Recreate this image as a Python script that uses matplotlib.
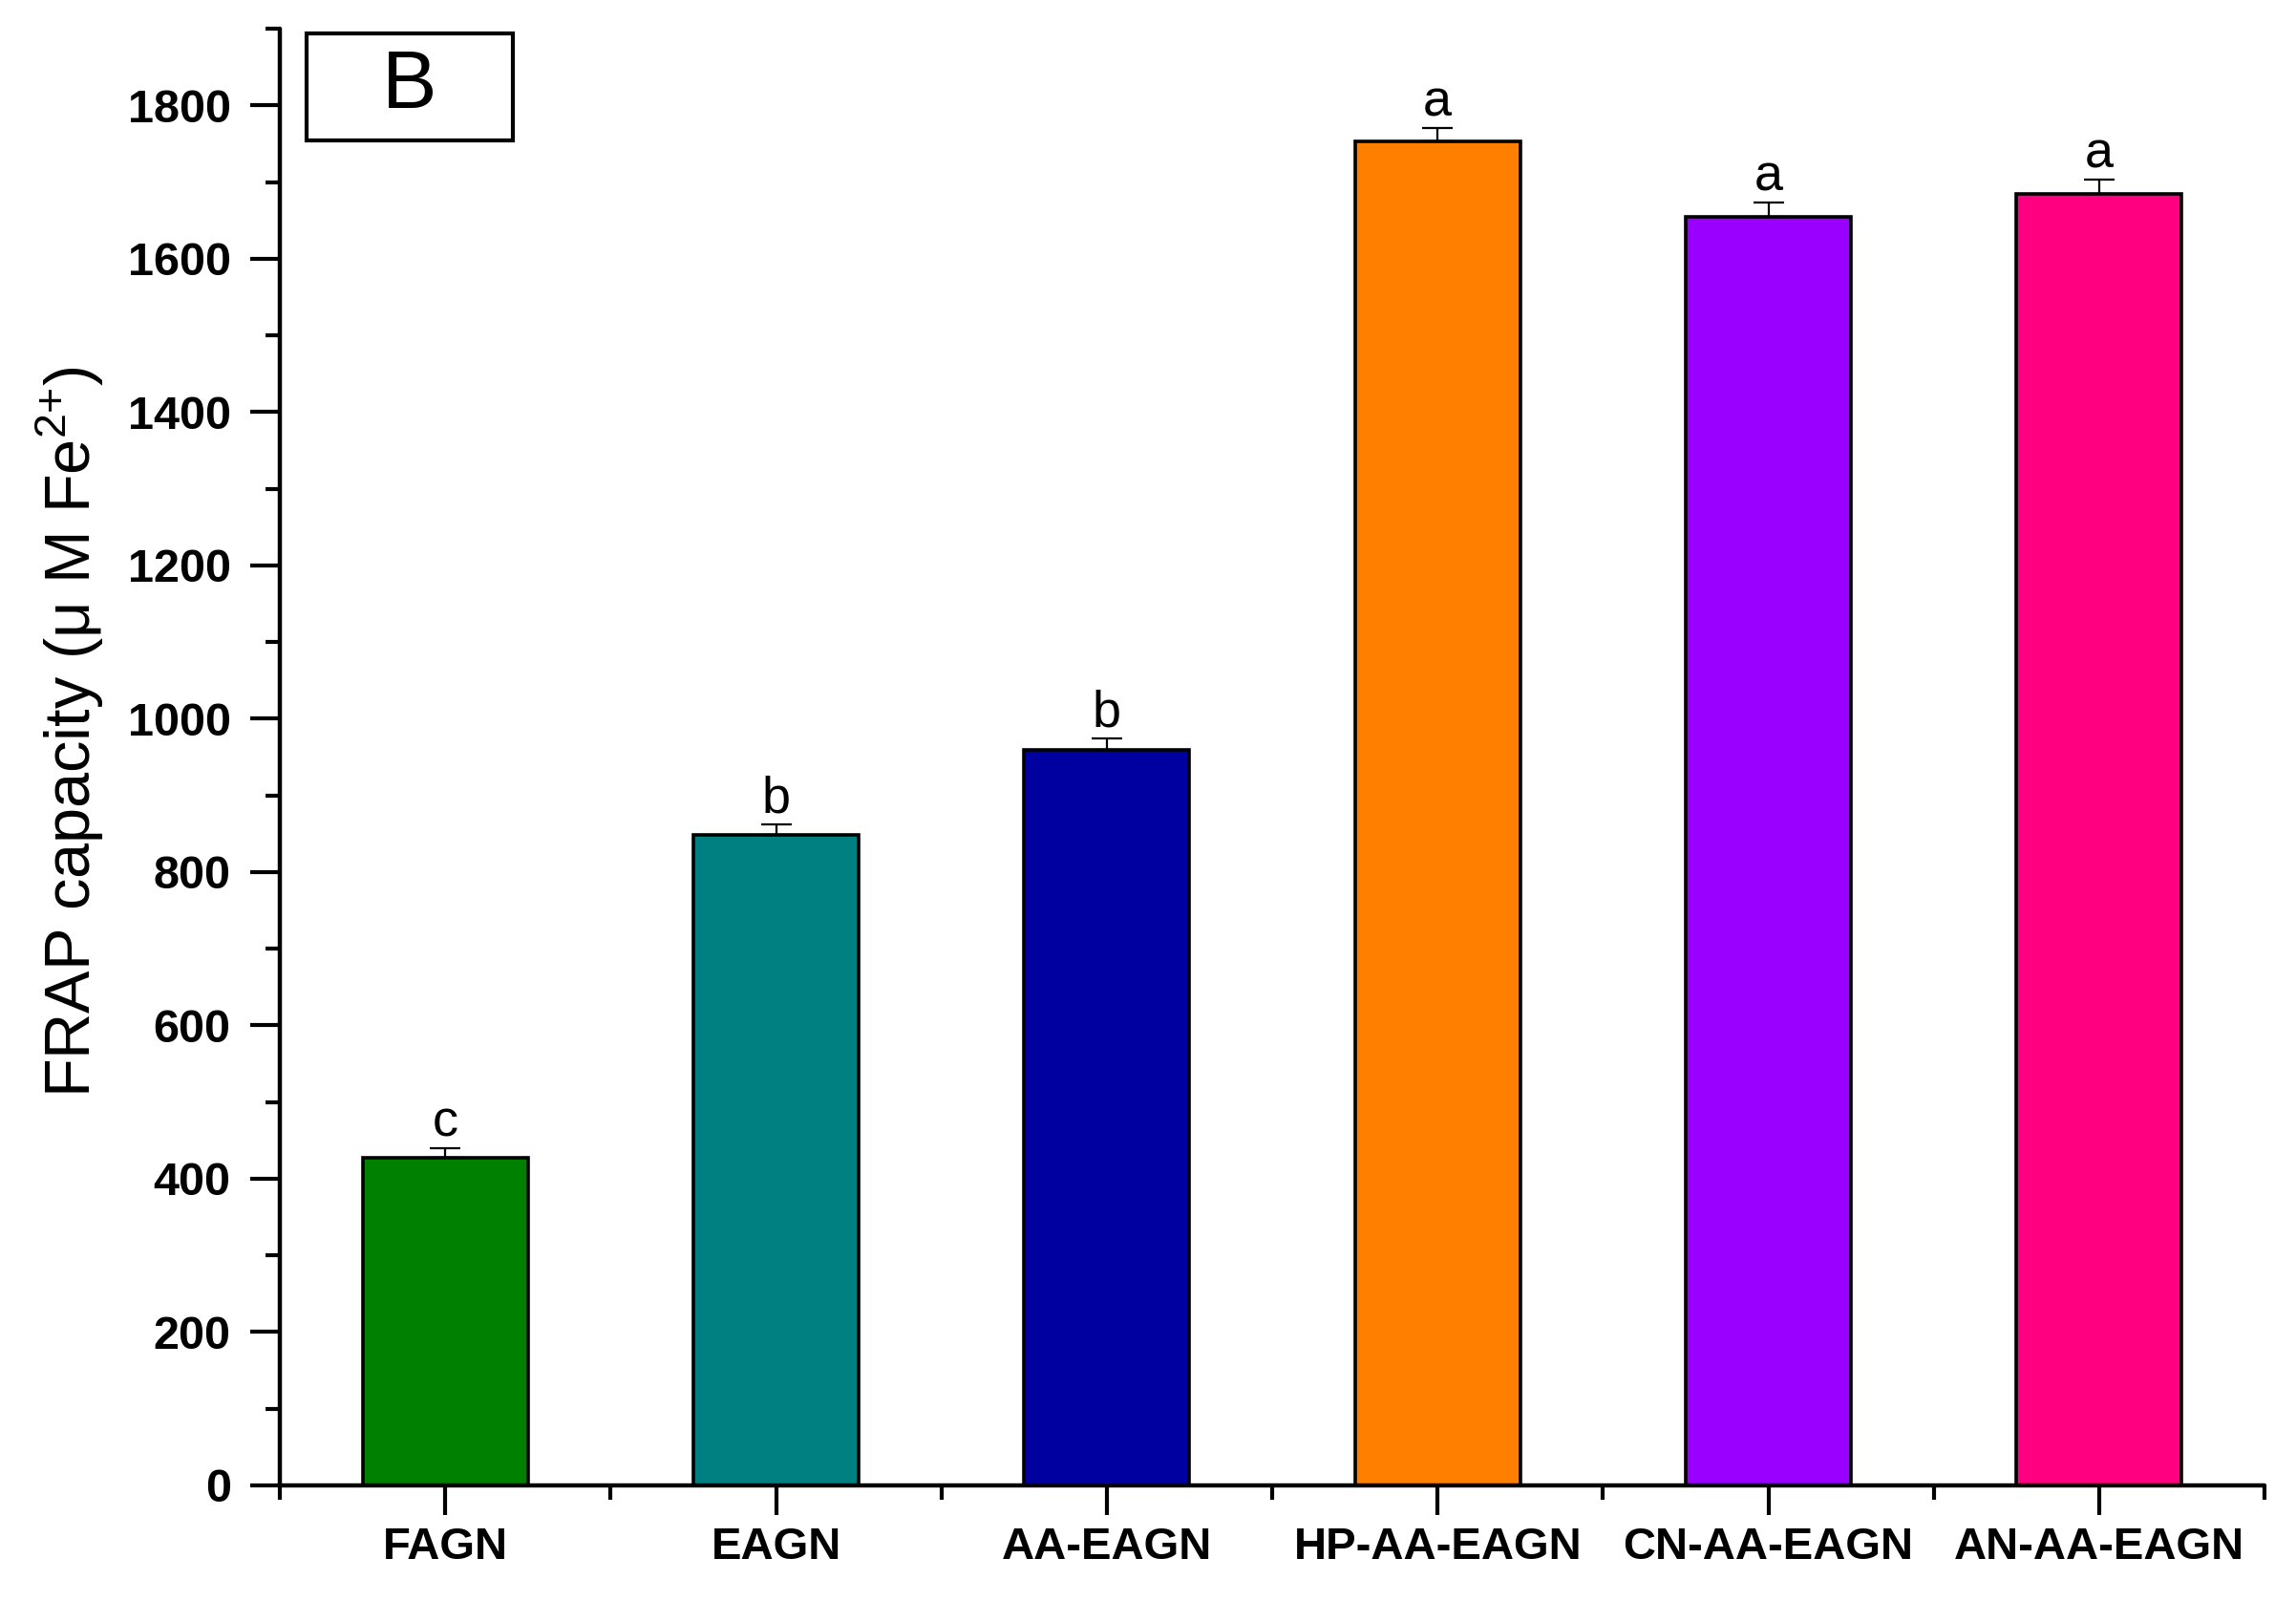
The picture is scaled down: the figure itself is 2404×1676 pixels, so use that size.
import matplotlib
matplotlib.use("Agg")
import matplotlib.pyplot as plt
from matplotlib.patches import Rectangle
from matplotlib.ticker import MultipleLocator, FixedLocator
import numpy as np

categories = ["FAGN", "EAGN", "AA-EAGN", "HP-AA-EAGN", "CN-AA-EAGN", "AN-AA-EAGN"]
values = [427, 849, 960, 1753, 1655, 1685]
errors = [13, 13, 15, 18, 18, 18]
letters = ["c", "b", "b", "a", "a", "a"]
colors = ["#008000", "#008080", "#0000A0", "#FF8000", "#9900FF", "#FF0080"]

plt.rcParams['font.family'] = ['Liberation Sans', 'DejaVu Sans']
plt.rcParams['mathtext.fontset'] = 'custom'
plt.rcParams['mathtext.rm'] = 'Liberation Sans'
plt.rcParams['mathtext.default'] = 'regular'

fig = plt.figure(figsize=(24.04, 16.76), dpi=100)
ax = fig.add_axes([0.1219, 0.0722, 0.9863 - 0.1219, 0.982 - 0.0722])

x = np.arange(1, len(categories) + 1)
ax.bar(x, values, width=0.5, color=colors, edgecolor='black', linewidth=2.6, zorder=2)
ax.errorbar(x, values, yerr=[np.zeros(len(errors)), errors], fmt='none',
            ecolor='black', elinewidth=1.6, capsize=11.5, capthick=1.6, zorder=3)

for xi, v, e, l in zip(x, values, errors, letters):
    ax.annotate(l, xy=(xi, v + e), xytext=(0, 9), textcoords='offset points',
                ha='center', va='baseline', fontsize=39)

ax.set_xlim(0.5, 6.5)
ax.set_ylim(0, 1900)
ax.yaxis.set_major_locator(FixedLocator(np.arange(0, 1801, 200)))
ax.yaxis.set_minor_locator(MultipleLocator(100))
ax.set_xticks(x)
ax.set_xticklabels(categories)
ax.xaxis.set_minor_locator(FixedLocator(np.arange(0.5, 6.6, 1.0)))

for s in ['top', 'right']:
    ax.spines[s].set_visible(False)
for s in ['left', 'bottom']:
    ax.spines[s].set_linewidth(3.2)
    ax.spines[s].set_capstyle('round')

ax.tick_params(axis='both', which='major', direction='out', length=22, width=3, pad=12)
ax.tick_params(axis='both', which='minor', direction='out', length=11, width=3)
ax.tick_params(axis='y', which='major', pad=15)
ax.tick_params(axis='x', which='major', pad=9)
for lab in ax.get_yticklabels():
    lab.set_fontweight('bold')
    lab.set_fontsize(35)
ax.set_xticklabels(categories, fontsize=34, fontweight='bold')

ax.set_ylabel(r'FRAP capacity (μ M Fe$^{2{+}}$)', fontsize=48, labelpad=18)
ax.yaxis.set_label_coords(-0.0876, 0.517)

box = Rectangle((0.0135, 0.9233), 0.1174 - 0.0135, 0.9967 - 0.9233,
                transform=ax.transAxes, fill=False, edgecolor='black',
                linewidth=3, zorder=5, clip_on=False)
ax.add_patch(box)
ax.text((0.0135 + 0.1174) / 2, (0.9233 + 0.9967) / 2, 'B', transform=ax.transAxes,
        ha='center', va='center', fontsize=62)

fig.savefig('out.png', dpi=100)
